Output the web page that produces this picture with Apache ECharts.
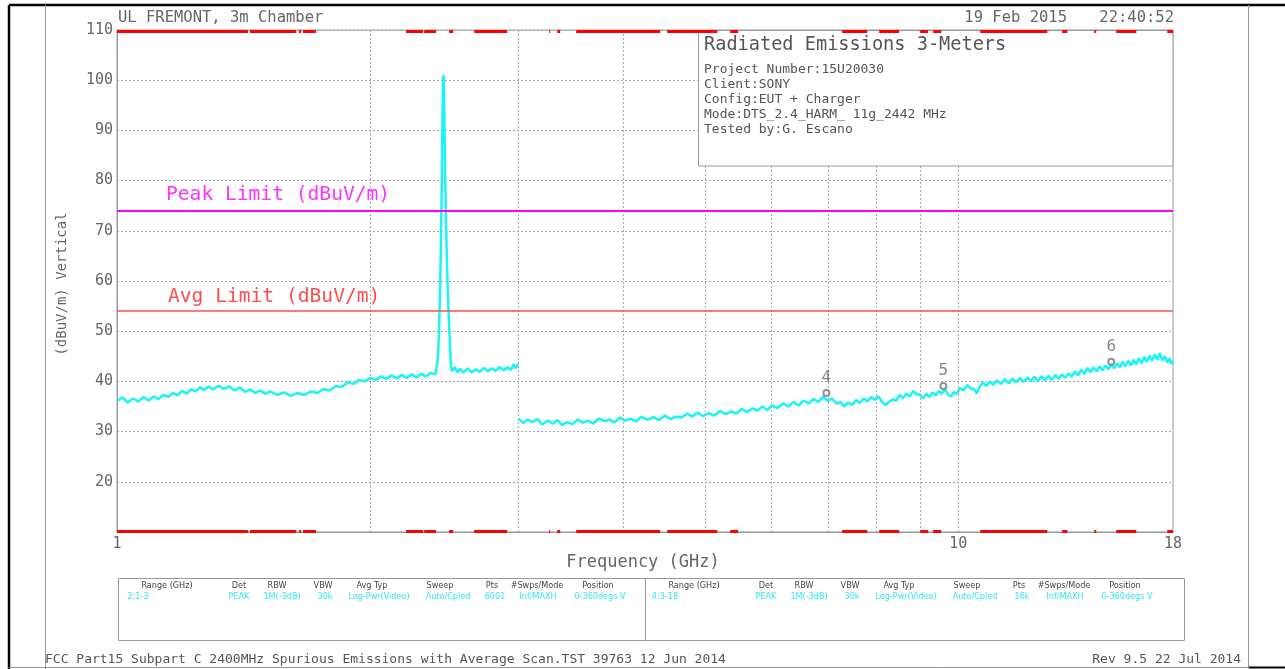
<!DOCTYPE html>
<html>
<head>
<meta charset="utf-8">
<title>Radiated Emissions 3-Meters</title>
<script src="https://cdn.jsdelivr.net/npm/echarts@6/dist/echarts.min.js"></script>
<style>
html, body { margin: 0; padding: 0; background: #fff; }
#chart { width: 1285px; height: 669px; }
</style>
</head>
<body>
<div id="chart"></div>
<script>
// frequency in GHz, level in dBuV/m
const lowBand = [
  [1.00,36.1],[1.015,36.8],[1.03,35.8],[1.045,36.6],[1.06,36.0],[1.075,36.9],[1.09,36.2],[1.105,37.0],
  [1.12,36.5],[1.135,37.3],[1.15,36.9],[1.165,37.7],[1.18,37.2],[1.195,38.1],[1.21,37.6],[1.225,38.4],
  [1.24,38.0],[1.255,38.8],[1.27,38.3],[1.285,39.0],[1.30,38.4],[1.32,39.1],[1.34,38.5],[1.36,39.0],
  [1.38,38.2],[1.40,38.8],[1.42,37.9],[1.44,38.4],[1.46,37.7],[1.48,38.2],[1.50,37.5],[1.52,38.0],
  [1.55,37.3],[1.58,37.8],[1.61,37.1],[1.64,37.7],[1.67,37.3],[1.70,38.0],[1.73,37.7],[1.76,38.5],
  [1.79,38.2],[1.82,39.1],[1.85,38.9],[1.88,39.8],[1.91,39.5],[1.94,40.3],[1.97,40.0],[2.00,40.7],
  [2.03,40.3],[2.06,41.0],[2.09,40.5],[2.12,41.2],[2.15,40.6],[2.18,41.3],[2.21,40.7],[2.24,41.4],
  [2.27,40.8],[2.30,41.5],[2.33,41.0],[2.36,41.7],[2.39,41.4],
  [2.405,44],[2.412,48],[2.418,54],[2.425,64],[2.431,76],[2.436,89],[2.440,98],[2.443,101],
  [2.446,100],[2.450,92],[2.455,81],[2.461,72],[2.467,64],[2.474,57],[2.481,52],[2.488,47],[2.495,43],
  [2.50,42.0],[2.52,42.8],[2.54,41.8],[2.56,42.5],[2.58,41.7],[2.61,42.6],[2.64,41.8],[2.67,42.4],
  [2.70,41.9],[2.73,42.7],[2.76,42.0],[2.79,42.6],[2.82,42.1],[2.85,42.9],[2.88,42.2],[2.91,42.8],
  [2.94,42.3],[2.96,43.4],[2.98,42.6],[2.995,43.5]
];
const highBand = [
  [3.00,32.6],[3.04,31.7],[3.08,32.4],[3.12,31.9],[3.16,32.5],[3.20,31.4],[3.25,32.2],[3.30,31.6],
  [3.34,32.3],[3.38,31.3],[3.43,31.9],[3.48,31.5],[3.53,32.4],[3.58,31.8],[3.63,32.2],[3.68,31.6],
  [3.74,32.6],[3.80,32.1],[3.85,32.4],[3.90,31.8],[3.96,32.8],[4.02,32.2],[4.08,32.6],[4.14,32.0],
  [4.20,33.0],[4.27,32.4],[4.34,32.9],[4.41,32.3],[4.48,33.2],[4.55,32.5],[4.62,33.0],[4.69,32.8],
  [4.76,33.6],[4.83,33.0],[4.90,33.8],[4.97,33.1],[5.05,33.7],[5.13,33.2],[5.21,34.1],[5.29,33.5],
  [5.37,34.0],[5.45,33.6],[5.53,34.5],[5.61,33.9],[5.69,34.6],[5.77,34.2],[5.85,35.0],[5.93,34.3],
  [6.01,35.2],[6.10,34.7],[6.19,35.6],[6.28,35.0],[6.37,35.9],[6.46,35.2],[6.55,36.2],[6.64,35.6],
  [6.73,36.5],[6.82,35.9],[6.91,36.9],[7.00,36.1],[7.08,36.6],[7.16,35.6],[7.24,35.9],[7.32,35.0],
  [7.40,35.8],[7.48,35.3],[7.56,36.3],[7.64,35.7],[7.72,36.6],[7.80,36.0],[7.88,36.9],[7.96,36.3],
  [8.04,37.0],[8.12,35.9],[8.20,35.3],[8.28,36.0],[8.36,36.4],[8.44,36.2],[8.52,37.3],[8.60,36.7],
  [8.68,37.6],[8.76,37.0],[8.84,38.1],[8.92,37.4],[9.00,37.4],[9.08,36.6],[9.16,37.5],[9.24,36.9],
  [9.32,37.8],[9.40,37.2],[9.48,38.1],[9.56,37.5],[9.64,38.5],[9.72,37.4],[9.80,37.0],[9.88,37.9],
  [9.96,37.5],[10.05,38.7],[10.15,38.2],[10.25,39.3],[10.35,38.6],[10.45,38.4],[10.52,37.6],[10.6,38.9],
  [10.7,39.8],[10.8,39.1],[10.9,40.0],[11.0,39.3],[11.12,40.2],[11.24,39.5],[11.36,40.4],[11.48,39.6],
  [11.6,40.6],[11.72,39.8],[11.84,40.7],[11.96,39.9],[12.08,40.8],[12.2,40.0],[12.32,40.9],[12.44,40.1],
  [12.56,41.0],[12.68,40.2],[12.8,41.1],[12.92,40.3],[13.04,41.3],[13.16,40.5],[13.28,41.4],[13.4,40.7],
  [13.52,41.6],[13.64,40.9],[13.76,42.0],[13.88,41.2],[14.0,42.3],[14.12,41.5],[14.24,42.7],[14.36,41.8],
  [14.48,42.8],[14.6,42.0],[14.72,43.0],[14.84,42.2],[14.96,43.2],[15.08,42.4],[15.2,43.5],[15.32,42.6],
  [15.44,43.6],[15.56,42.8],[15.68,43.9],[15.8,43.0],[15.92,44.1],[16.04,43.2],[16.16,44.3],[16.28,43.4],
  [16.4,44.6],[16.52,43.6],[16.64,44.9],[16.76,43.9],[16.88,45.1],[17.0,44.1],[17.12,45.4],[17.24,44.3],
  [17.36,45.6],[17.48,44.2],[17.6,45.0],[17.72,43.8],[17.84,44.6],[17.92,43.5],[18.0,44.0]
];
const peakLimit = 74;
const avgLimit = 54;
const gridFreqs = [2, 3, 4, 5, 6, 7, 8, 9, 10];
const freqLabels = [1, 10, 18];
// red sweep segments drawn along top and bottom edges (GHz)
const sweepBars = [
  [1.0,1.431],[1.439,1.633],[1.646,1.655],[1.664,1.724],[2.206,2.311],[2.318,2.395],[2.482,2.510],
  [2.658,2.909],[3.264,3.273],[3.336,3.364],[3.514,4.423],[4.508,5.170],[5.357,5.475],[7.278,7.795],
  [8.055,8.508],[9.011,9.211],[9.336,9.545],[10.62,12.76],[13.29,13.48],[14.51,14.59],[15.41,16.28],
  [17.72,18.0]
];
const markers = [
  { name: '4', value: [6.97, 37.7] },
  { name: '5', value: [9.60, 39.1] },
  { name: '6', value: [15.2, 43.9] }
];
const infoLines = [
  'Project Number:15U20030',
  'Client:SONY',
  'Config:EUT + Charger',
  'Mode:DTS_2.4_HARM_ 11g_2442 MHz',
  'Tested by:G. Escano'
];
const tableHead = ['Range (GHz)', 'Det', 'RBW', 'VBW', 'Avg Typ', 'Sweep', 'Pts', '#Swps/Mode', 'Position'];
const tableRowA = ['2:1-3', 'PEAK', '1M(-3dB)', '30k', 'Log-Pwr(Video)', 'Auto/Cpled', '6001', 'Inf/MAXH', '0-360degs V'];
const tableRowB = ['4:3-18', 'PEAK', '1M(-3dB)', '30k', 'Log-Pwr(Video)', 'Auto/Cpled', '16k', 'Inf/MAXH', '0-360degs V'];

const mono = '"DejaVu Sans Mono", monospace';
const small = '9px "DejaVu Sans Condensed", "Liberation Sans Narrow", "DejaVu Sans"';
const textGray = '#666';
const lineGray = '#999';
const traceColor = '#19f5f5';

// table column centres, measured from the left edge of each half
const headX = [49, 121, 159, 205, 254, 322, 374, 419, 480];
const valX = [20, 121, 164, 207, 261, 330, 377, 420, 482];

function tableTexts(x0, row) {
  const out = [];
  tableHead.forEach(function (h, i) {
    out.push({ type: 'text', x: x0 + headX[i], y: 586, style: { text: h, fill: '#444', font: small, align: 'center', verticalAlign: 'middle' } });
    out.push({ type: 'text', x: x0 + valX[i], y: 597, style: { text: row[i], fill: '#2ee8f0', font: small, align: 'center', verticalAlign: 'middle' } });
  });
  return out;
}

const chart = echarts.init(document.getElementById('chart'));
chart.setOption({
  backgroundColor: '#fff',
  animation: false,
  grid: { left: 117, right: 112, top: 30, bottom: 137, show: true, borderColor: lineGray, borderWidth: 1 },
  xAxis: {
    type: 'log',
    logBase: 10,
    min: 1,
    max: 18,
    axisLine: { lineStyle: { color: lineGray } },
    axisTick: { show: false },
    splitLine: { show: false },
    axisLabel: { customValues: freqLabels, color: textGray, fontFamily: mono, fontSize: 15, margin: 5, showMinLabel: true, showMaxLabel: true }
  },
  yAxis: {
    type: 'value',
    min: 10,
    max: 110,
    interval: 10,
    axisLine: { show: true, lineStyle: { color: lineGray } },
    axisTick: { show: false },
    splitLine: { lineStyle: { color: '#aaa', type: [2, 2] } },
    axisLabel: {
      color: textGray, fontFamily: mono, fontSize: 15, margin: 4,
      formatter: function (v) { return v === 10 ? '' : String(v); }
    }
  },
  series: [
    {
      name: 'grid',
      type: 'line',
      data: [],
      silent: true,
      z: 1,
      markLine: {
        silent: true, symbol: 'none', label: { show: false },
        lineStyle: { color: '#aaa', type: [2, 2], width: 1 },
        data: gridFreqs.map(function (f) { return { xAxis: f }; })
      }
    },
    {
      name: 'limits',
      type: 'line',
      data: [],
      silent: true,
      z: 3,
      markLine: {
        silent: true, symbol: 'none', label: { show: false },
        data: [
          { yAxis: peakLimit, lineStyle: { color: '#ff00ff', width: 2, type: 'solid' } },
          { yAxis: avgLimit, lineStyle: { color: '#ff4d4d', width: 1.5, type: 'solid' } }
        ]
      }
    },
    {
      name: '1-3 GHz',
      type: 'line',
      data: lowBand,
      showSymbol: false,
      z: 4,
      lineStyle: { color: traceColor, width: 2.5 }
    },
    {
      name: '3-18 GHz',
      type: 'line',
      data: highBand,
      showSymbol: false,
      z: 4,
      lineStyle: { color: traceColor, width: 2.5 }
    },
    {
      name: 'sweep',
      type: 'lines',
      coordinateSystem: 'cartesian2d',
      silent: true,
      z: 20,
      lineStyle: { color: '#ff0000', width: 3, opacity: 1 },
      data: sweepBars.map(function (s) { return { coords: [[s[0], 109.8], [s[1], 109.8]] }; })
        .concat(sweepBars.map(function (s) { return { coords: [[s[0], 10.1], [s[1], 10.1]] }; }))
    },
    {
      name: 'markers',
      type: 'scatter',
      data: markers,
      symbol: 'emptyCircle',
      symbolSize: 6,
      z: 6,
      itemStyle: { color: '#777', borderColor: '#777', borderWidth: 1 },
      label: { show: true, position: 'top', distance: 3, formatter: '{b}', color: '#666', fontFamily: mono, fontSize: 16 }
    }
  ],
  graphic: [
    // outer frames
    { type: 'line', z: 30, shape: { x1: 9, y1: 5, x2: 1285, y2: 5 }, style: { stroke: '#000', lineWidth: 2.5 } },
    { type: 'line', z: 30, shape: { x1: 9, y1: 5, x2: 9, y2: 669 }, style: { stroke: '#000', lineWidth: 2.5 } },
    { type: 'line', z: 30, shape: { x1: 1248, y1: 667.5, x2: 1285, y2: 667.5 }, style: { stroke: '#000', lineWidth: 2 } },
    { type: 'line', z: 30, shape: { x1: 45.5, y1: 5, x2: 45.5, y2: 669 }, style: { stroke: lineGray, lineWidth: 1 } },
    { type: 'line', z: 30, shape: { x1: 1248.5, y1: 5, x2: 1248.5, y2: 669 }, style: { stroke: lineGray, lineWidth: 1 } },
    { type: 'line', z: 30, shape: { x1: 9, y1: 667.5, x2: 1248, y2: 667.5 }, style: { stroke: lineGray, lineWidth: 1 } },
    // header
    { type: 'text', x: 118, y: 18, style: { text: 'UL FREMONT, 3m Chamber', fill: textGray, font: '15.5px ' + mono, verticalAlign: 'middle' } },
    { type: 'text', x: 1067, y: 18, style: { text: '19 Feb 2015', fill: textGray, font: '15.5px ' + mono, align: 'right', verticalAlign: 'middle' } },
    { type: 'text', x: 1174, y: 18, style: { text: '22:40:52', fill: textGray, font: '15.5px ' + mono, align: 'right', verticalAlign: 'middle' } },
    // info box
    { type: 'rect', z: 10, shape: { x: 698.5, y: 30.5, width: 474.5, height: 135.5 }, style: { fill: '#fff', stroke: lineGray, lineWidth: 1 } },
    { type: 'text', z: 11, x: 704, y: 45, style: { text: 'Radiated Emissions 3-Meters', fill: '#555', font: '18.6px ' + mono, verticalAlign: 'middle' } },
    { type: 'group', z: 11, children: infoLines.map(function (t, i) {
      return { type: 'text', z: 11, x: 704, y: 70 + i * 14.8, style: { text: t, fill: '#555', font: '13px ' + mono, verticalAlign: 'middle' } };
    }) },
    // limit labels
    { type: 'text', z: 11, x: 166, y: 195, style: { text: 'Peak Limit (dBuV/m)', fill: '#ff33ff', font: '19.6px ' + mono, verticalAlign: 'middle' } },
    { type: 'text', z: 11, x: 168, y: 297, style: { text: 'Avg Limit (dBuV/m)', fill: '#ff4d4d', font: '19.6px ' + mono, verticalAlign: 'middle' } },
    // axis names
    { type: 'text', z: 11, x: 62, y: 284, rotation: Math.PI / 2, style: { text: '(dBuV/m) Vertical', fill: textGray, font: '14px ' + mono, align: 'center', verticalAlign: 'middle' } },
    { type: 'text', z: 11, x: 643, y: 563, style: { text: 'Frequency (GHz)', fill: textGray, font: '17px ' + mono, align: 'center', verticalAlign: 'middle' } },
    // settings table
    { type: 'rect', z: 10, shape: { x: 118.5, y: 578.5, width: 1066, height: 62 }, style: { fill: 'none', stroke: lineGray, lineWidth: 1 } },
    { type: 'line', z: 10, shape: { x1: 645.5, y1: 578.5, x2: 645.5, y2: 640.5 }, style: { stroke: lineGray, lineWidth: 1 } },
    { type: 'group', z: 11, children: tableTexts(118, tableRowA).concat(tableTexts(645, tableRowB)) },
    // footer
    { type: 'text', z: 11, x: 45, y: 660, style: { text: 'FCC Part15 Subpart C 2400MHz Spurious Emissions with Average Scan.TST 39763 12 Jun 2014', fill: '#555', font: '13px ' + mono, verticalAlign: 'middle' } },
    { type: 'text', z: 11, x: 1241, y: 660, style: { text: 'Rev 9.5 22 Jul 2014', fill: '#555', font: '13px ' + mono, align: 'right', verticalAlign: 'middle' } }
  ]
});
</script>
</body>
</html>
